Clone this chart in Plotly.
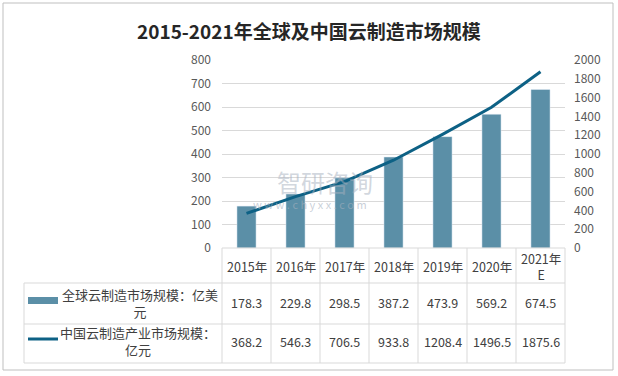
import plotly.graph_objects as go

years = ["2015年", "2016年", "2017年", "2018年", "2019年", "2020年", "2021年<br>E"]
global_vals = [178.3, 229.8, 298.5, 387.2, 473.9, 569.2, 674.5]
china_vals = [368.2, 546.3, 706.5, 933.8, 1208.4, 1496.5, 1875.6]
global_name = "全球云制造市场规模：亿美元"
china_name = "中国云制造产业市场规模：亿元"
title = "2015-2021年全球及中国云制造市场规模"

W, H = 618, 376
L, R, T, B = 222, 565, 60, 248
BAR = "#5B8FA7"
LINE = "#0D6185"
TXT = "#404040"
GRID = "#D9D9D9"
FONT = "Noto Sans CJK SC"

def px(x):
    return (x - L) / (R - L)

def py(y):
    return (B - y) / (B - T)

def note(x, y, text, size=12.5, color=TXT, align="center"):
    return dict(x=px(x), y=py(y), xref="paper", yref="paper", text=text, showarrow=False,
                xanchor="center", yanchor="middle", align=align,
                font=dict(size=size, color=color, family=FONT))

xs = list(range(len(years)))
fig = go.Figure()
fig.add_trace(go.Bar(x=xs, y=global_vals, marker_color=BAR, width=0.39, name=global_name))
fig.add_trace(go.Scatter(x=xs, y=china_vals, yaxis="y2", mode="lines",
                         line=dict(color=LINE, width=3), name=china_name))

shapes = []
ann = []
shapes.append(dict(type="rect", xref="paper", yref="paper", x0=px(3), x1=px(613), y0=py(3), y1=py(370),
                   line=dict(color="#BFBFBF", width=1)))
lc = dict(color=GRID, width=1)
for i in range(len(years) + 1):
    x = px(L + i * (R - L) / len(years))
    shapes.append(dict(type="line", xref="paper", yref="paper", x0=x, x1=x, y0=py(B), y1=py(363), line=lc))
shapes.append(dict(type="line", xref="paper", yref="paper", x0=px(24), x1=px(24), y0=py(283), y1=py(363), line=lc))
for yy in [283, 324, 363]:
    shapes.append(dict(type="line", xref="paper", yref="paper", x0=px(24), x1=px(R), y0=py(yy), y1=py(yy), line=lc))
shapes.append(dict(type="line", xref="paper", yref="paper", x0=px(L), x1=px(R), y0=py(B), y1=py(B), line=lc))

shapes.append(dict(type="rect", xref="paper", yref="paper", x0=px(28), x1=px(58), y0=py(304), y1=py(297),
                   fillcolor=BAR, line=dict(width=0)))
shapes.append(dict(type="line", xref="paper", yref="paper", x0=px(28), x1=px(58), y0=py(339), y1=py(339),
                   line=dict(color=LINE, width=3)))

cw = (R - L) / len(years)
for i, yr in enumerate(years):
    cx = L + (i + 0.5) * cw
    ann.append(note(cx, 266, yr))
    ann.append(note(cx, 302, f"{global_vals[i]:.1f}"))
    ann.append(note(cx, 341, f"{china_vals[i]:.1f}"))

ann.append(note(140, 303, global_name[:12] + "<br>" + global_name[12:], size=13))
ann.append(note(138, 341, china_name[:12] + "<br>" + china_name[12:], size=13))
ann.append(note(309, 31, "<b>" + title + "</b>", size=19, color="#262626"))
ann.append(note(325, 181, "智研咨询", size=24, color="rgba(165,175,190,0.5)"))
ann.append(note(310, 204, "w w w . c h y x x . c o m", size=11, color="rgba(165,175,190,0.6)"))

fig.update_layout(
    width=W, height=H,
    margin=dict(l=L, r=W - R, t=T, b=H - B, autoexpand=False),
    paper_bgcolor="white", plot_bgcolor="white",
    showlegend=False,
    font=dict(family=FONT, color="#595959", size=12),
    xaxis=dict(range=[-0.5, len(years) - 0.5], showticklabels=False, showgrid=False, zeroline=False,
               showline=False, ticks="", automargin=False),
    yaxis=dict(range=[0, 800], dtick=100, gridcolor=GRID, zeroline=False, showline=False, automargin=False,
               tickfont=dict(size=12, color="#595959"), ticklabelstandoff=10),
    yaxis2=dict(range=[0, 2000], dtick=200, overlaying="y", side="right", showgrid=False, zeroline=False,
                showline=False, automargin=False, tickfont=dict(size=12, color="#595959"), ticklabelstandoff=8),
    shapes=shapes, annotations=ann,
)

fig.write_html("out.html", config={"displayModeBar": False},
               post_script="document.body.style.margin='0px';document.body.style.overflow='hidden';")
